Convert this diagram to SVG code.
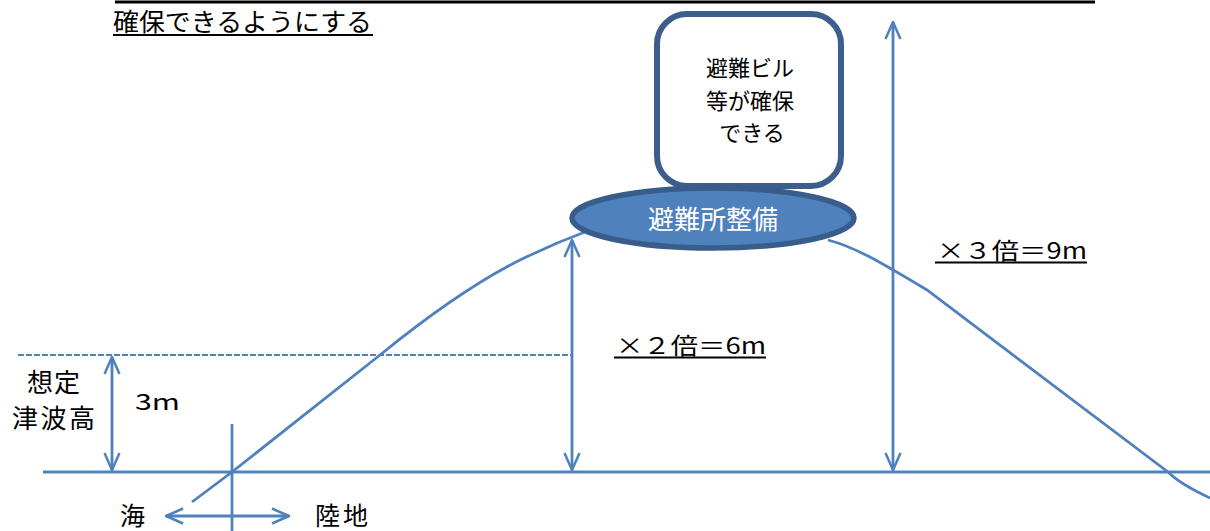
<svg xmlns="http://www.w3.org/2000/svg" width="1210" height="531" viewBox="0 0 1210 531">
<style>
.ln{stroke:#4f81bd;stroke-width:2.8;fill:none}
.t{font-family:"Noto Sans CJK JP","Liberation Sans",sans-serif;fill:#000}
</style>
<defs>
<marker id="ah" viewBox="0 0 20 20" refX="19" refY="10" markerWidth="20" markerHeight="20" markerUnits="userSpaceOnUse" orient="auto-start-reverse">
<path d="M2,2.5 L19,10 L2,17.5" fill="none" stroke="#4f81bd" stroke-width="2.5"/>
</marker>
</defs>
<rect width="1210" height="531" fill="#fff"/>
<line x1="115" y1="2" x2="1095" y2="2" stroke="#000" stroke-width="3"/>
<g id="title">
<text class="t" x="113" y="31" font-size="25" textLength="259" lengthAdjust="spacingAndGlyphs">確保できるようにする</text>
<line x1="113" y1="35" x2="373" y2="35" stroke="#000" stroke-width="2"/>
</g>
<g id="connectors">
<line class="ln" x1="43" y1="472" x2="1210" y2="472"/>
<line x1="18" y1="355" x2="573" y2="355" stroke="#4f81bd" stroke-width="2" stroke-dasharray="6,2"/>
<line class="ln" x1="112" y1="357" x2="112" y2="470" marker-start="url(#ah)" marker-end="url(#ah)"/>
<line class="ln" x1="232" y1="424" x2="232" y2="531"/>
<line class="ln" x1="166" y1="516" x2="289" y2="516" marker-start="url(#ah)" marker-end="url(#ah)"/>
<path class="ln" d="M192,502 L232,472 L380,355 Q460,290 520,260 Q555,243 590,230"/>
<line class="ln" x1="572" y1="240" x2="572" y2="470" marker-start="url(#ah)" marker-end="url(#ah)"/>
<line class="ln" x1="893" y1="22" x2="893" y2="470" marker-start="url(#ah)" marker-end="url(#ah)"/>
<path class="ln" d="M828,240 C855,247 880,262 927,290 L1168,472 Q1180,484 1210,498"/>
</g>
<g id="building">
<rect x="657" y="14" width="184" height="172" rx="30" fill="#fff" stroke="#3b5e8c" stroke-width="6"/>
<text class="t" x="750" y="76" font-size="22" text-anchor="middle">避難ビル</text>
<text class="t" x="750" y="109" font-size="22" text-anchor="middle">等が確保</text>
<text class="t" x="752" y="141" font-size="22" text-anchor="middle">できる</text>
</g>
<g id="shelter">
<ellipse cx="713" cy="218" rx="141" ry="30" fill="#4f81bd" stroke="#385d8a" stroke-width="5.5"/>
<text x="713" y="229" font-size="26" text-anchor="middle" font-family="Noto Sans CJK JP,sans-serif" fill="#fff">避難所整備</text>
</g>
<g id="label-6m">
<text class="t" x="616" y="354" font-size="23" textLength="150" lengthAdjust="spacingAndGlyphs">×２倍＝6m</text>
<line x1="614" y1="357.5" x2="766" y2="357.5" stroke="#000" stroke-width="1.8"/>
</g>
<g id="label-9m">
<text class="t" x="937" y="259" font-size="23" textLength="150" lengthAdjust="spacingAndGlyphs">×３倍＝9m</text>
<line x1="935" y1="262.5" x2="1087" y2="262.5" stroke="#000" stroke-width="1.8"/>
</g>
<g id="label-tsunami">
<text class="t" x="27" y="392" font-size="26" textLength="53" lengthAdjust="spacing">想定</text>
<text class="t" x="12" y="428" font-size="26" textLength="83" lengthAdjust="spacing">津波高</text>
<text class="t" x="135" y="410" font-size="22" textLength="45" lengthAdjust="spacingAndGlyphs">3m</text>
</g>
<g id="label-sea">
<text class="t" x="120" y="525" font-size="25">海</text>
<text class="t" x="315" y="525" font-size="25" textLength="53" lengthAdjust="spacing">陸地</text>
</g>
</svg>
